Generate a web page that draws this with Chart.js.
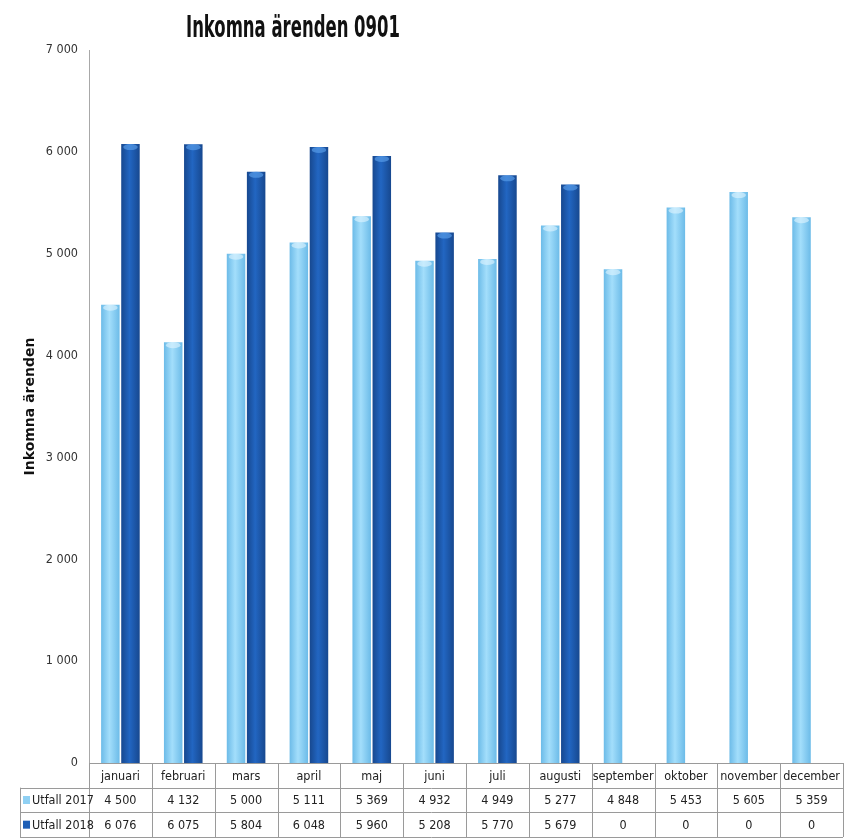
<!DOCTYPE html>
<html>
<head>
<meta charset="utf-8">
<script src="https://cdn.jsdelivr.net/npm/chart.js@4"></script>
<style>
  html, body { margin: 0; padding: 0; background: #fff; }
  #wrap { width: 846px; height: 839px; position: relative; }
</style>
</head>
<body>
<div id="wrap"><canvas id="myChart"></canvas></div>
<script>
// chart data
var months = ['januari', 'februari', 'mars', 'april', 'maj', 'juni', 'juli', 'augusti', 'september', 'oktober', 'november', 'december'];
var utfall2017 = [4500, 4132, 5000, 5111, 5369, 4932, 4949, 5277, 4848, 5453, 5605, 5359];
var utfall2018 = [6076, 6075, 5804, 6048, 5960, 5208, 5770, 5679, 0, 0, 0, 0];
var seriesNames = ['Utfall 2017', 'Utfall 2018'];
var yTicks = [0, 1000, 2000, 3000, 4000, 5000, 6000, 7000];

var narrow = '"Liberation Sans Narrow", "DejaVu Sans Condensed", sans-serif';
var catPct = 0.64, barPct = 0.92;
var capColors = ['rgba(225,245,255,0.6)', 'rgba(90,160,235,0.65)'];

function fmt(v) {
  return String(v).replace(/\B(?=(\d{3})+(?!\d))/g, ' ');
}

// horizontal shading across each bar, like the cylinder look in the original
function barFill(edge, mid) {
  return function (c) {
    var chart = c.chart;
    var xs = chart.scales.x;
    if (!xs || !chart.chartArea) return mid;
    var catW = xs.width / months.length;
    var w = catW * catPct / 2;
    var cx = xs.getPixelForValue(c.dataIndex) + (c.datasetIndex - 0.5) * w;
    var half = w * barPct / 2;
    if (!isFinite(cx)) return mid;
    var g = chart.ctx.createLinearGradient(cx - half, 0, cx + half, 0);
    g.addColorStop(0, edge);
    g.addColorStop(0.45, mid);
    g.addColorStop(1, edge);
    return g;
  };
}

// lighter rounded cap on top of each bar
var capPlugin = {
  id: 'barCaps',
  afterDatasetsDraw: function (chart) {
    var ctx = chart.ctx;
    ctx.save();
    chart.data.datasets.forEach(function (ds, di) {
      var meta = chart.getDatasetMeta(di);
      meta.data.forEach(function (bar, i) {
        if (!ds.data[i]) return;
        var half = bar.width / 2;
        ctx.fillStyle = capColors[di];
        ctx.beginPath();
        ctx.ellipse(bar.x, bar.y + 3, half - 2, 3, 0, 0, Math.PI * 2);
        ctx.fill();
      });
    });
    ctx.restore();
  }
};

var titlePlugin = {
  id: 'titleText',
  afterDraw: function (chart) {
    var ctx = chart.ctx;
    ctx.save();
    ctx.font = 'bold 30px ' + narrow;
    ctx.fillStyle = '#111';
    ctx.textBaseline = 'alphabetic';
    var txt = 'Inkomna ärenden 0901';
    var w = ctx.measureText(txt).width;
    ctx.translate(186, 37);
    ctx.scale(214 / w, 1);
    ctx.fillText(txt, 0, 0);
    ctx.restore();
  }
};

// data table under the plot, columns follow the x scale
var tablePlugin = {
  id: 'dataTable',
  afterDraw: function (chart) {
    var ctx = chart.ctx;
    var area = chart.chartArea;
    var xs = chart.scales.x;
    var catW = xs.width / months.length;
    var top = area.bottom;
    var rowH = (chart.height - 2 - top) / 3;
    var bottom = top + rowH * 3;
    var leftCol = 20;
    ctx.save();
    ctx.strokeStyle = '#9a9a9a';
    ctx.lineWidth = 1;
    ctx.beginPath();
    // horizontal lines
    ctx.moveTo(area.left, top + 0.5); ctx.lineTo(area.right, top + 0.5);
    for (var r = 1; r <= 3; r++) {
      var y = Math.round(top + rowH * r) + 0.5;
      ctx.moveTo(leftCol, y); ctx.lineTo(area.right, y);
    }
    // verticals
    for (var i = 0; i <= months.length; i++) {
      var x = Math.round(area.left + catW * i) + 0.5;
      ctx.moveTo(x, top); ctx.lineTo(x, bottom);
    }
    ctx.moveTo(leftCol + 0.5, top + rowH); ctx.lineTo(leftCol + 0.5, bottom);
    ctx.stroke();

    ctx.font = '12.5px ' + narrow;
    ctx.fillStyle = '#222';
    ctx.textAlign = 'center';
    ctx.textBaseline = 'middle';
    var rows = [utfall2017, utfall2018];
    for (var j = 0; j < months.length; j++) {
      var cx = xs.getPixelForValue(j);
      ctx.fillText(months[j], cx, top + rowH * 0.5 + 1);
      for (var k = 0; k < rows.length; k++) {
        ctx.fillText(fmt(rows[k][j]), cx, top + rowH * (k + 1.5) + 1);
      }
    }
    // legend column
    var swatch = ['#8fd0f3', '#1f5fb6'];
    ctx.textAlign = 'left';
    for (var s = 0; s < seriesNames.length; s++) {
      var yc = top + rowH * (s + 1.5);
      ctx.fillStyle = swatch[s];
      ctx.fillRect(leftCol + 3, yc - 4, 7, 8);
      ctx.fillStyle = '#222';
      ctx.fillText(seriesNames[s], leftCol + 12, yc + 1);
    }
    ctx.restore();
  }
};

var ctx = document.getElementById('myChart').getContext('2d');
var chart = new Chart(ctx, {
  type: 'bar',
  data: {
    labels: months,
    datasets: [
      {
        label: seriesNames[0],
        data: utfall2017,
        backgroundColor: barFill('#6cbbe8', '#a3defb'),
        borderWidth: 0
      },
      {
        label: seriesNames[1],
        data: utfall2018,
        backgroundColor: barFill('#17488f', '#2266c2'),
        borderWidth: 0
      }
    ]
  },
  options: {
    responsive: true,
    maintainAspectRatio: false,
    animation: false,
    categoryPercentage: catPct,
    barPercentage: barPct,
    layout: { padding: { top: 50, bottom: 76, left: 0, right: 3 } },
    plugins: {
      legend: { display: false },
      tooltip: { enabled: false },
      title: { display: false }
    },
    scales: {
      x: {
        display: false
      },
      y: {
        min: 0,
        max: 7000,
        afterBuildTicks: function (scale) {
          scale.ticks = yTicks.map(function (v) { return { value: v }; });
        },
        afterFit: function (scale) { scale.width = 89; },
        grid: { display: false, drawTicks: false },
        border: { display: true, color: '#a8a8a8', width: 1 },
        ticks: {
          padding: 11,
          color: '#333',
          font: { family: narrow, size: 12.5 },
          callback: function (v) { return fmt(v); }
        },
        title: {
          display: true,
          text: 'Inkomna ärenden',
          color: '#111',
          padding: { top: 22, bottom: 0 },
          font: { family: '"DejaVu Sans", sans-serif', size: 14, weight: 'bold' }
        }
      }
    }
  },
  plugins: [capPlugin, titlePlugin, tablePlugin]
});
</script>
</body>
</html>
